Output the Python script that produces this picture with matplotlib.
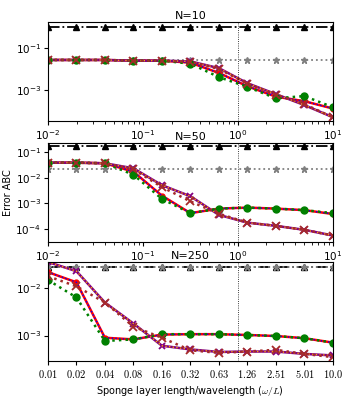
import numpy as np
import matplotlib
matplotlib.use("Agg")
import matplotlib.pyplot as plt

plt.rcParams["mathtext.fontset"] = "cm"

# sponge layer length / wavelength (log-spaced)
x = [0.01, 0.01995, 0.03981, 0.07943, 0.1585, 0.3162, 0.631, 1.259, 2.512, 5.012, 10.0]
xlabels = ["0.01", "0.02", "0.04", "0.08", "0.16", "0.32", "0.63", "1.26", "2.51", "5.01", "10.0"]

titles = ["N=10", "N=50", "N=250"]

# reference levels
no_abc = [1.05, 0.166, 0.028]
plain_abc = [0.027, 0.021, 0.028]

# red / blue (same data) and green variant
red_vals = [
    [0.027, 0.027, 0.027, 0.025, 0.025, 0.020, 0.0065, 0.0015, 0.00048, 0.00029, 0.00013],
    [0.038, 0.038, 0.036, 0.017, 0.0020, 0.00042, 0.00063, 0.00069, 0.00063, 0.00055, 0.00039],
    [0.022, 0.0134, 0.0009, 0.00083, 0.00105, 0.00107, 0.00107, 0.00103, 0.00098, 0.00088, 0.00071],
]
green_vals = [
    [0.027, 0.027, 0.027, 0.025, 0.025, 0.018, 0.0041, 0.0014, 0.00040, 0.00051, 0.00015],
    [0.038, 0.038, 0.036, 0.013, 0.0015, 0.00042, 0.00063, 0.00069, 0.00063, 0.00055, 0.00042],
    [0.015, 0.0064, 0.00077, 0.00083, 0.00107, 0.00107, 0.00107, 0.00103, 0.00098, 0.00088, 0.00071],
]
# purple / orange (same data) and brown variant
purple_vals = [
    [0.027, 0.027, 0.027, 0.025, 0.025, 0.023, 0.011, 0.0021, 0.00063, 0.00019, 0.00005],
    [0.038, 0.038, 0.036, 0.023, 0.0051, 0.0019, 0.00036, 0.00018, 0.000135, 0.000095, 0.000057],
    [0.036, 0.023, 0.0050, 0.0018, 0.00061, 0.00051, 0.00045, 0.00046, 0.00046, 0.00041, 0.00038],
]
brown_vals = [
    [0.027, 0.027, 0.027, 0.025, 0.025, 0.022, 0.010, 0.0020, 0.00060, 0.00021, 0.00005],
    [0.038, 0.038, 0.036, 0.021, 0.0043, 0.0012, 0.00040, 0.00018, 0.000135, 0.000095, 0.000057],
    [0.018, 0.011, 0.0050, 0.00155, 0.0009, 0.00049, 0.00043, 0.00046, 0.00050, 0.00041, 0.00035],
]

ylims = [(3.3e-5, 1.75), (3.2e-5, 0.22), (2.9e-4, 0.036)]
yticks = [[1e-1, 1e-3], [1e-1, 1e-2, 1e-3, 1e-4], [1e-2, 1e-3]]

fig = plt.figure(figsize=(3.5, 4.0), dpi=100)
bottoms = [0.6975, 0.395, 0.0975]

for i in range(3):
    ax = fig.add_axes([0.137, bottoms[i], 0.814, 0.2475])
    ax.set_xscale("log")
    ax.set_yscale("log")

    ax.plot(x, [no_abc[i]] * len(x), "k-.", marker="^", ms=5, lw=1.3)
    ax.plot(x, [plain_abc[i]] * len(x), ":", color="gray", marker="*", ms=5, lw=1.3)

    ax.plot(x, red_vals[i], "-", color="red", marker="o", ms=3.5, lw=1.8)
    ax.plot(x, red_vals[i], ":", color="blue", lw=1.0)
    ax.plot(x, purple_vals[i], "-", color="purple", marker="x", ms=4.5, mew=1.3, lw=1.8)
    ax.plot(x, purple_vals[i], ":", color="orange", lw=1.0)
    ax.plot(x, green_vals[i], ":", color="green", marker="o", ms=5, lw=1.8)
    ax.plot(x, brown_vals[i], ":", color="brown", marker="x", ms=5.5, mew=1.3, lw=1.8)

    ax.axvline(1.0, color="k", ls=":", lw=0.6)

    ax.set_xlim(0.01, 10.0)
    ax.set_ylim(*ylims[i])
    ax.set_yticks(yticks[i])
    ax.yaxis.set_minor_locator(matplotlib.ticker.NullLocator())
    ax.set_title(titles[i], fontsize=8, pad=2)
    ax.tick_params(labelsize=7.5, length=3, pad=2)

    if i == 2:
        ax.set_xticks(x)
        ax.set_xticklabels(["$" + s + "$" for s in xlabels])
        ax.xaxis.set_minor_locator(matplotlib.ticker.NullLocator())
        ax.set_xlabel(r"Sponge layer length/wavelength ($\omega/L$)", fontsize=7, labelpad=3)
    if i == 1:
        ax.set_ylabel("Error ABC", fontsize=7, labelpad=2)

fig.savefig("out.png", dpi=100)
